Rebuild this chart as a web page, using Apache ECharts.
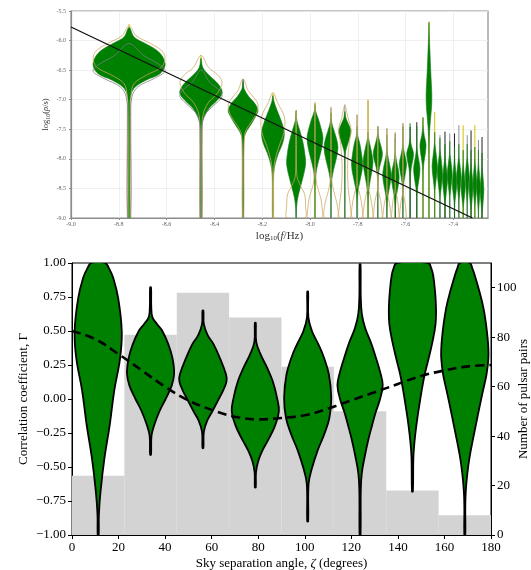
<!DOCTYPE html>
<html><head><meta charset="utf-8">
<script src="https://cdn.jsdelivr.net/npm/echarts@6/dist/echarts.min.js"></script>
<style>html,body{margin:0;padding:0;background:#fff}#c{width:531px;height:570px}</style>
</head><body><div id="c"></div>
<script>
// ================= TOP PANEL DATA =================
// log10 of frequency bins
const logFreq = [-8.757,-8.456,-8.280,-8.155,-8.058,-7.979,-7.912,-7.854,-7.803,-7.757,-7.716,-7.678,-7.643,-7.611,-7.581,-7.553,-7.527,-7.502,-7.478,-7.456,-7.435,-7.415,-7.395,-7.377,-7.359,-7.342,-7.326,-7.310,-7.295,-7.280];
// posterior violin profiles per bin: [log10 rho, relative density]
const rhoProfiles = [
 [[-5.78,0],[-5.94,0.14],[-6.05,0.45],[-6.16,0.76],[-6.28,0.94],[-6.42,1.0],[-6.56,0.86],[-6.67,0.47],[-6.78,0.18],[-6.9,0.06],[-7.1,0.015],[-9.0,0.008]],
 [[-6.3,0],[-6.45,0.08],[-6.56,0.31],[-6.70,0.73],[-6.81,0.96],[-6.9,1.0],[-7.01,0.77],[-7.15,0.38],[-7.29,0.15],[-7.43,0.04],[-7.7,0.01],[-9.0,0.008]],
 [[-6.7,0],[-6.82,0.08],[-6.95,0.39],[-7.06,0.78],[-7.18,1.0],[-7.29,0.83],[-7.43,0.5],[-7.54,0.22],[-7.66,0.06],[-7.9,0.01],[-9.0,0.008]],
 [[-6.93,0],[-7.02,0.08],[-7.18,0.36],[-7.40,0.79],[-7.57,0.98],[-7.74,0.83],[-7.91,0.47],[-8.08,0.2],[-8.25,0.06],[-8.5,0.015],[-9.0,0.008]],
 [[-7.18,0],[-7.35,0.08],[-7.52,0.39],[-7.74,0.75],[-7.97,0.97],[-8.1,1.0],[-8.30,0.75],[-8.47,0.47],[-8.64,0.2],[-8.81,0.05],[-9.0,0.01]],
 [[-7.08,0],[-7.2,0.1],[-7.35,0.48],[-7.52,0.83],[-7.65,1.0],[-7.85,0.79],[-8.02,0.48],[-8.19,0.19],[-8.36,0.05],[-8.6,0.01],[-9.0,0.008]],
 [[-7.22,0],[-7.38,0.1],[-7.52,0.43],[-7.68,0.84],[-7.82,1.0],[-8.02,0.72],[-8.19,0.36],[-8.36,0.1],[-8.55,0.02],[-9.0,0.008]],
 [[-7.2,0],[-7.3,0.15],[-7.38,0.46],[-7.5,0.95],[-7.55,1.0],[-7.63,0.82],[-7.77,0.41],[-7.88,0.12],[-8.05,0.03],[-9.0,0.008]],
 [[-7.45,0],[-7.6,0.1],[-7.74,0.5],[-7.97,0.9],[-8.08,1.0],[-8.2,0.9],[-8.36,0.55],[-8.53,0.2],[-8.70,0.05],[-9.0,0.01]],
 [[-7.55,0],[-7.65,0.1],[-7.8,0.5],[-7.97,0.9],[-8.06,1.0],[-8.2,0.8],[-8.36,0.45],[-8.53,0.15],[-8.7,0.04],[-9.0,0.01]],
 [[-7.45,0],[-7.6,0.1],[-7.72,0.45],[-7.85,0.9],[-7.93,1.0],[-8.02,0.8],[-8.15,0.35],[-8.3,0.1],[-8.5,0.02],[-9.0,0.008]],
 [[-7.6,0],[-7.85,0.05],[-8.0,0.35],[-8.15,0.8],[-8.28,1.0],[-8.45,0.7],[-8.6,0.3],[-8.75,0.08],[-9.0,0.01]],
 [[-7.65,0],[-7.9,0.05],[-8.05,0.35],[-8.2,0.85],[-8.33,1.0],[-8.48,0.7],[-8.62,0.3],[-8.78,0.08],[-9.0,0.01]],
 [[-7.45,0],[-7.75,0.05],[-7.9,0.4],[-8.02,0.85],[-8.1,1.0],[-8.22,0.75],[-8.38,0.3],[-8.55,0.08],[-9.0,0.01]],
 [[-7.4,0],[-7.65,0.05],[-7.78,0.4],[-7.9,1.0],[-8.02,0.8],[-8.15,0.35],[-8.3,0.1],[-8.5,0.02],[-9.0,0.008]],
 [[-7.45,0],[-7.8,0.05],[-7.95,0.4],[-8.1,0.9],[-8.2,1.0],[-8.35,0.7],[-8.5,0.25],[-8.65,0.06],[-9.0,0.01]],
 [[-7.3,0],[-7.45,0.05],[-7.6,0.4],[-7.75,1.0],[-7.9,0.8],[-8.05,0.35],[-8.2,0.08],[-8.5,0.02],[-9.0,0.008]],
 [[-5.69,0],[-5.9,0.1],[-6.2,0.35],[-6.5,0.6],[-6.75,0.85],[-6.92,1.0],[-7.12,0.9],[-7.35,0.5],[-7.55,0.2],[-7.75,0.08],[-8.1,0.03],[-9.0,0.01]],
 [[-7.55,0],[-7.74,0.1],[-7.94,0.6],[-8.13,1],[-8.33,0.6],[-8.53,0.1],[-8.65,0.02],[-9,0.01]],
 [[-7.65,0],[-7.85,0.1],[-8.05,0.6],[-8.25,1],[-8.45,0.6],[-8.64,0.1],[-8.75,0.02],[-9,0.01]],
 [[-7.75,0],[-7.97,0.1],[-8.17,0.6],[-8.36,1],[-8.55,0.6],[-8.75,0.1],[-8.85,0.02],[-9,0.01]],
 [[-7.7,0],[-7.91,0.1],[-8.08,0.6],[-8.25,1],[-8.45,0.6],[-8.64,0.1],[-8.75,0.02],[-9,0.01]],
 [[-7.8,0],[-8.02,0.1],[-8.22,0.6],[-8.42,1],[-8.6,0.6],[-8.75,0.1],[-8.85,0.02],[-9,0.01]],
 [[-7.75,0],[-7.97,0.1],[-8.13,0.6],[-8.3,1],[-8.5,0.6],[-8.7,0.1],[-8.8,0.02],[-9,0.01]],
 [[-7.85,0],[-8.08,0.1],[-8.28,0.6],[-8.47,1],[-8.65,0.6],[-8.81,0.1],[-8.9,0.02],[-9,0.01]],
 [[-7.75,0],[-7.97,0.1],[-8.13,0.6],[-8.3,1],[-8.52,0.6],[-8.75,0.1],[-8.85,0.02],[-9,0.01]],
 [[-7.85,0],[-8.08,0.1],[-8.28,0.6],[-8.47,1],[-8.67,0.6],[-8.87,0.1],[-8.95,0.02],[-9,0.01]],
 [[-7.8,0],[-8.02,0.1],[-8.22,0.6],[-8.42,1],[-8.62,0.6],[-8.81,0.1],[-8.9,0.02],[-9,0.01]],
 [[-7.85,0],[-8.08,0.1],[-8.28,0.6],[-8.47,1],[-8.67,0.6],[-8.87,0.1],[-8.95,0.02],[-9,0.01]],
 [[-7.9,0],[-8.13,0.1],[-8.33,0.6],[-8.53,1],[-8.73,0.6],[-8.92,0.1],[-9,0.05]]
];
// comparison posteriors (outline only)
const ghostTanProfiles = [
 [[-5.75,0],[-5.92,0.2],[-6.05,0.6],[-6.18,0.92],[-6.3,1.0],[-6.45,0.9],[-6.58,0.5],[-6.72,0.15],[-6.9,0.06],[-7.3,0.05],[-9.0,0.05]],
 [[-6.25,0],[-6.45,0.35],[-6.6,0.85],[-6.72,1.0],[-6.88,0.8],[-7.05,0.35],[-7.25,0.1],[-7.5,0.06],[-9.0,0.06]],
 [[-6.65,0],[-6.85,0.35],[-7.02,0.9],[-7.12,1.0],[-7.28,0.8],[-7.45,0.35],[-7.6,0.1],[-9.0,0.05]],
 [[-6.88,0],[-7.05,0.4],[-7.3,1.0],[-7.55,0.95],[-7.8,0.5],[-8.05,0.15],[-8.3,0.06],[-9.0,0.05]],
 [[-7.2,0],[-8.0,0.04],[-8.3,0.1],[-8.45,0.45],[-8.6,0.9],[-8.8,1.0],[-9.0,0.95]],
 [[-7.05,0],[-8.2,0.05],[-8.45,0.25],[-8.65,0.7],[-8.85,0.9],[-9.0,0.85]],
 [[-7.15,0],[-8.3,0.05],[-8.55,0.4],[-8.75,0.85],[-9.0,0.9]],
 [[-7.1,0],[-7.3,0.5],[-7.5,1.0],[-7.75,0.7],[-8.1,0.45],[-8.5,0.55],[-8.8,0.9],[-9.0,0.85]],
 [[-7.25,0],[-8.4,0.05],[-8.6,0.5],[-8.8,0.9],[-9.0,0.85]],
 [[-7.0,0],[-8.45,0.05],[-8.65,0.5],[-8.85,0.9],[-9.0,0.85]],
 [[-7.45,0],[-8.5,0.05],[-8.7,0.6],[-8.9,0.9],[-9.0,0.85]],
 [[-7.5,0],[-8.55,0.05],[-8.75,0.6],[-8.92,0.9],[-9.0,0.85]],
 [[-7.55,0],[-8.5,0.05],[-8.7,0.6],[-8.9,0.9],[-9.0,0.85]],
 [[-7.4,0],[-8.55,0.05],[-8.75,0.6],[-8.92,0.9],[-9.0,0.85]]
];
const ghostGreyProfiles = [
 [[-6.05,0],[-6.25,0.4],[-6.42,0.88],[-6.52,1.0],[-6.64,0.7],[-6.78,0.25],[-6.95,0.08],[-7.3,0.04],[-9.0,0.04]],
 [[-6.5,0],[-6.7,0.4],[-6.85,0.9],[-6.95,1.0],[-7.1,0.6],[-7.25,0.2],[-7.45,0.05],[-9.0,0.04]]
];
// upper ends of the thin posterior tails
const tailTops = [-5.72,-6.25,-6.65,-6.89,-7.2,-7.05,-7.12,-7.08,-7.26,-7.01,-7.46,-7.48,-7.57,-7.40,-7.46,-7.38,-7.30,-5.68,-7.21,-7.60,-7.54,-7.57,-7.57,-7.43,-7.43,-7.60,-7.52,-7.43,-7.68,-7.63];
// power-law model line (end points)
const powerLawLogF = [-9.0, -7.32];
const powerLawLogRho = [-5.77, -9.0];
const topXTicks = [-9.0,-8.8,-8.6,-8.4,-8.2,-8.0,-7.8,-7.6,-7.4];

// ================= BOTTOM PANEL DATA =================
const binStarts = [0,22.5,45,67.5,90,112.5,135,157.5];
const binWidth = 22.5;
const pairCounts = [24,81,98,88,68,50,18,8];
const violinAngles = [11.25,33.75,56.25,78.75,101.25,123.75,146.25,168.75];
// correlation posteriors: [Gamma, relative density]
const gammaProfiles = [
 [[1.0,0.29],[0.96,0.46],[0.89,0.64],[0.74,0.85],[0.5,1.0],[0.30,0.93],[0.06,0.68],[-0.19,0.49],[-0.43,0.27],[-0.68,0.1],[-0.85,0.03],[-1.0,0.02]],
 [[0.82,0.02],[0.68,0.03],[0.60,0.08],[0.55,0.28],[0.50,0.5],[0.40,0.76],[0.30,0.93],[0.19,1.0],[0.10,0.9],[0.0,0.64],[-0.09,0.38],[-0.19,0.16],[-0.27,0.04],[-0.41,0.02]],
 [[0.65,0.02],[0.55,0.04],[0.47,0.2],[0.40,0.46],[0.30,0.72],[0.18,0.98],[0.13,1.0],[0.06,0.85],[0.0,0.67],[-0.09,0.4],[-0.16,0.18],[-0.24,0.04],[-0.36,0.02]],
 [[0.56,0.02],[0.42,0.04],[0.33,0.22],[0.23,0.5],[0.13,0.74],[0.01,0.92],[-0.09,1.0],[-0.19,0.85],[-0.29,0.58],[-0.38,0.3],[-0.46,0.12],[-0.54,0.03],[-0.65,0.02]],
 [[0.79,0.02],[0.60,0.03],[0.50,0.18],[0.40,0.46],[0.30,0.7],[0.18,0.9],[0.01,1.0],[-0.14,0.92],[-0.26,0.7],[-0.38,0.42],[-0.51,0.18],[-0.62,0.04],[-0.90,0.02]],
 [[0.99,0.02],[0.75,0.03],[0.62,0.08],[0.52,0.22],[0.42,0.45],[0.30,0.68],[0.18,0.88],[0.1,0.96],[0.0,0.85],[-0.1,0.66],[-0.2,0.5],[-0.3,0.35],[-0.43,0.19],[-0.55,0.07],[-0.68,0.03],[-1.0,0.02]],
 [[1.0,0.67],[0.96,0.8],[0.91,0.88],[0.79,0.96],[0.67,1.0],[0.55,0.98],[0.42,0.85],[0.30,0.69],[0.18,0.52],[0.06,0.39],[-0.07,0.27],[-0.19,0.17],[-0.31,0.09],[-0.43,0.04],[-0.68,0.02]],
 [[1.0,0.21],[0.96,0.32],[0.91,0.42],[0.79,0.62],[0.67,0.79],[0.55,0.9],[0.40,0.99],[0.30,1.0],[0.18,0.92],[0.06,0.77],[-0.07,0.61],[-0.19,0.47],[-0.31,0.33],[-0.43,0.2],[-0.56,0.1],[-0.68,0.04],[-0.8,0.02],[-1.0,0.02]]
];
// expected (Hellings-Downs) correlation
const hdAngles = [0,10,20,30,40,50,60,70,80,90,100,110,120,130,140,150,160,170,180];
const hdValues = [0.50,0.44,0.33,0.21,0.09,-0.01,-0.08,-0.13,-0.15,-0.14,-0.12,-0.07,-0.01,0.05,0.11,0.17,0.21,0.24,0.25];
const angleTicks = [0,20,40,60,80,100,120,140,160,180];
const pairTicks = [0,20,40,60,80,100];

// ================= STYLE =================
const SERIF = '"Liberation Serif","DejaVu Serif",serif';
const GREEN = '#008000';
const tailPalette = ['#d6c200','#d6c200','#222222','#d6c200','#8e8e98','#d6c200','#8e8e98','#8e8e98','#8e8e98','#d6c200','#8e8e98','#8e8e98','#222222','#8e8e98','#222222','#222222','#d6c200','#d6c200','#d6c200','#8e8e98','#222222','#8e8e98','#222222','#8e8e98','#d6c200','#8e8e98','#222222','#d6c200','#8e8e98','#222222'];

function halfWidthTop(i){
  const n = logFreq.length;
  const d = i < n-1 ? logFreq[i+1]-logFreq[i] : logFreq[i]-logFreq[i-1];
  return 0.5*d;
}
function violinPoints(api, cx, hw, prof){
  const pts = [];
  prof.forEach(p => pts.push(api.coord([cx + p[1]*hw, p[0]])));
  for (let i = prof.length-1; i >= 0; i--) pts.push(api.coord([cx - prof[i][1]*hw, prof[i][0]]));
  const out = [];
  pts.forEach(p => { const q = out[out.length-1]; if (!q || Math.hypot(q[0]-p[0], q[1]-p[1]) > 0.05) out.push(p); });
  if (out.length > 1) { const a = out[0], b = out[out.length-1]; if (Math.hypot(a[0]-b[0], a[1]-b[1]) < 0.05) out.pop(); }
  return out;
}

const chart = echarts.init(document.getElementById('c'), null, {renderer: 'canvas'});
const topNameStyle = (fs) => ({
  fontFamily: SERIF, fontSize: fs, color: '#333',
  rich: {
    n: {fontFamily: SERIF, fontSize: fs, color: '#333'},
    s: {fontFamily: SERIF, fontSize: Math.round(fs*0.65), color: '#333', padding: [Math.round(fs*0.45),0,0,0]},
    i: {fontFamily: SERIF, fontSize: fs, color: '#333', fontStyle: 'italic'}
  }
});

const option = {
  animation: false,
  backgroundColor: '#ffffff',
  grid: [
    {left: 71, top: 11, width: 417, height: 207, show: true, borderColor: '#8c8c8c', borderWidth: 1.2, outerBoundsMode: 'none', containLabel: false},
    {left: 72, top: 263, width: 419, height: 272, show: true, borderColor: '#000', borderWidth: 1, outerBoundsMode: 'none', containLabel: false}
  ],
  xAxis: [
    {gridIndex: 0, type: 'value', min: -9.0, max: -7.255, interval: 0.2,
     axisLine: {onZero: false, lineStyle: {color: '#8c8c8c', width: 1.2}},
     axisTick: {length: 2, lineStyle: {color: '#8c8c8c'}, customValues: topXTicks},
     axisLabel: {customValues: topXTicks, formatter: v => v.toFixed(1), fontSize: 6, color: '#666', margin: 3, fontFamily: SERIF},
     splitLine: {show: true, lineStyle: {color: '#ececec', width: 0.8}},
     name: '{n|log}{s|10}{n|(}{i|f}{n|/Hz)}', nameLocation: 'middle', nameGap: 12, nameMoveOverlap: false, nameTextStyle: topNameStyle(11)},
    {gridIndex: 1, type: 'value', min: 0, max: 180, interval: 20,
     axisLine: {onZero: false, lineStyle: {color: '#000', width: 1}},
     axisTick: {length: 4, lineStyle: {color: '#000'}},
     axisLabel: {fontSize: 13, color: '#000', margin: 6, fontFamily: SERIF},
     splitLine: {show: false},
     name: 'Sky separation angle, {i|ζ} (degrees)', nameLocation: 'middle', nameGap: 22, nameMoveOverlap: false,
     nameTextStyle: {fontFamily: SERIF, fontSize: 13, color: '#000', rich: {i: {fontFamily: SERIF, fontSize: 13, fontStyle: 'italic', color: '#000'}}}}
  ],
  yAxis: [
    {gridIndex: 0, type: 'value', min: -9.0, max: -5.5, interval: 0.5,
     axisLine: {show: true, onZero: false, lineStyle: {color: '#8c8c8c', width: 1.2}},
     axisTick: {show: true, length: 2, lineStyle: {color: '#8c8c8c'}},
     axisLabel: {formatter: v => v.toFixed(1), fontSize: 6, color: '#666', margin: 5, fontFamily: SERIF},
     splitLine: {show: true, lineStyle: {color: '#ececec', width: 0.8}},
     name: '{n|log}{s|10}{n|(}{i|ρ}{n|/s)}', nameLocation: 'middle', nameGap: 20, nameRotate: 90, nameMoveOverlap: false, nameTextStyle: topNameStyle(8.5)},
    {gridIndex: 1, type: 'value', position: 'left', min: -1, max: 1, interval: 0.25,
     axisLine: {show: true, onZero: false, lineStyle: {color: '#000', width: 1}},
     axisTick: {show: true, length: 4, lineStyle: {color: '#000'}},
     axisLabel: {formatter: v => (v < 0 ? '\u2212' : '') + Math.abs(v).toFixed(2), fontSize: 13, color: '#000', margin: 6, fontFamily: SERIF},
     splitLine: {show: false},
     name: 'Correlation coefficient, Γ', nameLocation: 'middle', nameGap: 42, nameRotate: 90, nameMoveOverlap: false,
     nameTextStyle: {fontFamily: SERIF, fontSize: 13, color: '#000'}},
    {gridIndex: 1, type: 'value', position: 'right', min: 0, max: 110,
     axisLine: {show: true, onZero: false, lineStyle: {color: '#000', width: 1}},
     axisTick: {show: true, length: 4, lineStyle: {color: '#000'}, customValues: pairTicks},
     axisLabel: {customValues: pairTicks, fontSize: 13, color: '#000', margin: 6, fontFamily: SERIF},
     splitLine: {show: false},
     name: 'Number of pulsar pairs', nameLocation: 'middle', nameGap: 26, nameRotate: 90, nameMoveOverlap: false,
     nameTextStyle: {fontFamily: SERIF, fontSize: 13, color: '#000'}}
  ],
  series: [
    // tails (top)
    {type: 'custom', xAxisIndex: 0, yAxisIndex: 0, z: 1, clip: true,
     data: logFreq.map((x, i) => [x, tailTops[i]]),
     renderItem: (params, api) => {
       const i = params.dataIndex;
       const a = api.coord([logFreq[i], -9.0]), b = api.coord([logFreq[i], tailTops[i]]);
       return {type: 'line', shape: {x1: a[0], y1: a[1], x2: b[0], y2: b[1]}, style: {stroke: tailPalette[i], lineWidth: 1}};
     }},
    // green posterior violins (top)
    {type: 'custom', xAxisIndex: 0, yAxisIndex: 0, z: 2, clip: true,
     data: logFreq.map((x, i) => [x, rhoProfiles[i][0][0]]),
     renderItem: (params, api) => {
       const i = params.dataIndex;
       const pts = violinPoints(api, logFreq[i], halfWidthTop(i), rhoProfiles[i]);
       return {type: 'polygon', shape: {points: pts, smooth: 0.35}, style: {fill: GREEN, stroke: '#1a7a1a', lineWidth: 0.6}};
     }},
    // tan outline comparison violins (top)
    {type: 'custom', xAxisIndex: 0, yAxisIndex: 0, z: 3, clip: true,
     data: ghostTanProfiles.map((p, i) => [logFreq[i], p[0][0]]),
     renderItem: (params, api) => {
       const i = params.dataIndex;
       const pts = violinPoints(api, logFreq[i], halfWidthTop(i), ghostTanProfiles[i]);
       return {type: 'polygon', shape: {points: pts, smooth: 0.35}, style: {fill: 'none', stroke: '#c9a860', lineWidth: 0.9, opacity: 0.85}};
     }},
    // grey outline comparison violins (top)
    {type: 'custom', xAxisIndex: 0, yAxisIndex: 0, z: 3, clip: true,
     data: ghostGreyProfiles.map((p, i) => [logFreq[i], p[0][0]]),
     renderItem: (params, api) => {
       const i = params.dataIndex;
       const pts = violinPoints(api, logFreq[i], halfWidthTop(i), ghostGreyProfiles[i]);
       return {type: 'polygon', shape: {points: pts, smooth: 0.35}, style: {fill: 'none', stroke: '#7a7a88', lineWidth: 0.9, opacity: 0.85}};
     }},
    // power-law line (top)
    {type: 'line', xAxisIndex: 0, yAxisIndex: 0, z: 5, symbol: 'none', silent: true,
     data: powerLawLogF.map((x, i) => [x, powerLawLogRho[i]]),
     lineStyle: {color: '#111', width: 1.3}},
    // histogram of pulsar pairs (bottom)
    {type: 'custom', xAxisIndex: 1, yAxisIndex: 2, z: 1,
     data: binStarts.map((x, i) => [x, pairCounts[i]]),
     renderItem: (params, api) => {
       const i = params.dataIndex;
       const a = api.coord([binStarts[i], pairCounts[i]]);
       const b = api.coord([binStarts[i] + binWidth, 0]);
       return {type: 'rect', shape: {x: a[0], y: a[1], width: b[0]-a[0], height: b[1]-a[1]}, style: {fill: '#d3d3d3'}};
     }},
    // correlation violins (bottom)
    {type: 'custom', xAxisIndex: 1, yAxisIndex: 1, z: 2, clip: true,
     data: violinAngles.map((x, i) => [x, gammaProfiles[i][0][0]]),
     renderItem: (params, api) => {
       const i = params.dataIndex;
       const pts = violinPoints(api, violinAngles[i], 0.45*binWidth, gammaProfiles[i]);
       return {type: 'polygon', shape: {points: pts, smooth: 0.4}, style: {fill: GREEN, stroke: '#000', lineWidth: 1.8, lineJoin: 'round'}};
     }},
    // expected correlation curve (bottom)
    {type: 'line', xAxisIndex: 1, yAxisIndex: 1, z: 5, symbol: 'none', smooth: 0.4, silent: true,
     data: hdAngles.map((a, i) => [a, hdValues[i]]),
     lineStyle: {color: '#000', width: 2.6, type: [9, 5]}}
  ]
};
chart.setOption(option);
</script>
</body></html>
